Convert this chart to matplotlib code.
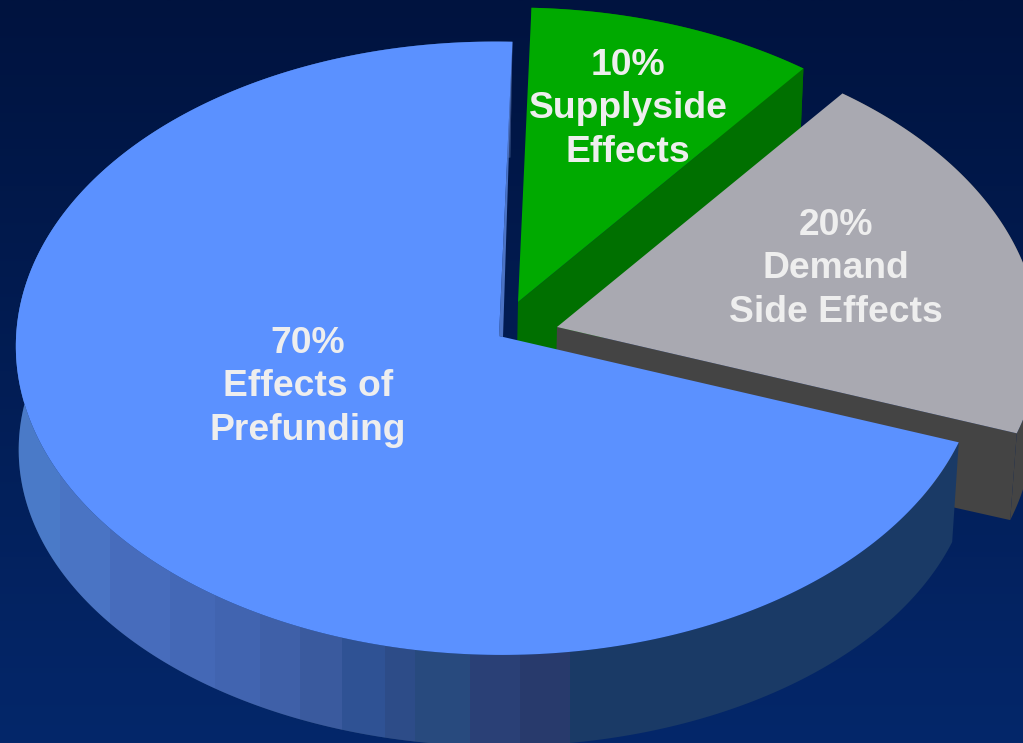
import numpy as np
import matplotlib
matplotlib.use('Agg')
import matplotlib.pyplot as plt
from matplotlib.patches import Polygon

plt.rcParams['font.family'] = ['Liberation Sans', 'DejaVu Sans']

# slices, clockwise from the top, drawn back to front
shares = [10, 20, 70]
names = ['Supplyside\nEffects', 'Demand\nSide Effects', 'Effects of\nPrefunding']
top_cols = ['#00aa00', '#a9a9b1', '#5b91ff']
side_cols = ['#007000', '#444444', '#1a3a66']
centres = [(518, 302), (557, 327), (499, 336)]
drops = [104, 91, 104]
label_pos = [(628, 109), (836, 269), (308, 387)]

# bands on the front of the big slice (left edge x, colour)
band_x = [0, 60, 110, 170, 215, 260, 300, 342, 385, 415, 470, 520, 570]
band_cols = ['#4a7ac8', '#4a74c4', '#476cbc', '#4468b6', '#4164b0', '#3f60a8', '#3a5a9e',
             '#2f5294', '#2d4c88', '#284a7e', '#2a4076', '#283a6c', '#1a3a66']

bg_top = '#00133f'
bg_bottom = '#04276a'


# top rim of a tilted pie, t in radians clockwise from 12 o'clock
def rim(c, t, r=1.0):
    w = 1 + 0.04 * np.cos(t)
    x = c[0] + r * (482 * np.sin(t) + 14 * np.cos(t)) / w
    y = c[1] + r * (-306 * np.cos(t) + 11 * np.sin(t)) / w
    return x, y


# same rim on the underside of the pie
def low(c, t, drop, r=1.0):
    x, y = rim((0, 0), t, r)
    return c[0] - 2 + x * 0.99, c[1] + drop + y * 0.96


fig = plt.figure(figsize=(10.23, 7.43), dpi=100)
ax = fig.add_axes([0, 0, 1, 1])
ax.set_xlim(0, 1023)
ax.set_ylim(743, 0)
ax.axis('off')

grad = np.linspace(0, 1, 256).reshape(-1, 1)
cmap = matplotlib.colors.LinearSegmentedColormap.from_list('bg', [bg_top, bg_bottom])
ax.imshow(grad, extent=(0, 1023, 743, 0), cmap=cmap, aspect='auto', zorder=0)

start = 0
z = 1
for i in range(len(shares)):
    t0 = np.radians(start)
    t1 = np.radians(start + shares[i] * 3.6)
    t = np.linspace(t0, t1, 300)
    c = centres[i]
    d = drops[i]

    # outer wall, then the cut face at the clockwise end of the slice
    xt, yt = rim(c, t)
    xb, yb = low(c, t, d)
    wall = Polygon(np.r_[np.c_[xt, yt], np.c_[xb, yb][::-1]], fc=side_cols[i], ec='none', zorder=z)
    ax.add_patch(wall)
    if i == 2:
        for j in range(len(band_x)):
            x1 = band_x[j + 1] if j + 1 < len(band_x) else 1023
            if band_cols[j] != side_cols[i]:
                sp = ax.axvspan(band_x[j], x1, color=band_cols[j], lw=0, zorder=z)
                sp.set_clip_path(wall)
    else:
        pts = [rim(c, t1), low(c, t1, d), low(c, t1, d, 0), rim(c, t1, 0)]
        ax.add_patch(Polygon(pts, fc=side_cols[i], ec='none', zorder=z))

    if i == 2:
        # thin lit edge next to the gap at 12 o'clock
        pts = [rim(c, 2 * np.pi), (c[0] + 4, c[1] + 1), (c[0], c[1])]
        ax.add_patch(Polygon(pts, fc='#4b73c5', ec='none', zorder=z))

    xs, ys = rim(c, t)
    ax.add_patch(Polygon(np.r_[np.c_[xs, ys], [c]], fc=top_cols[i], ec='none', zorder=z + 1))

    ax.text(label_pos[i][0], label_pos[i][1], f'{shares[i]}%\n{names[i]}', color='#eeeeee',
            fontsize=26.8, fontweight='bold', ha='center', va='center', linespacing=1.33, zorder=10)
    start += shares[i] * 3.6
    z += 2

fig.savefig('out.png', dpi=100)
